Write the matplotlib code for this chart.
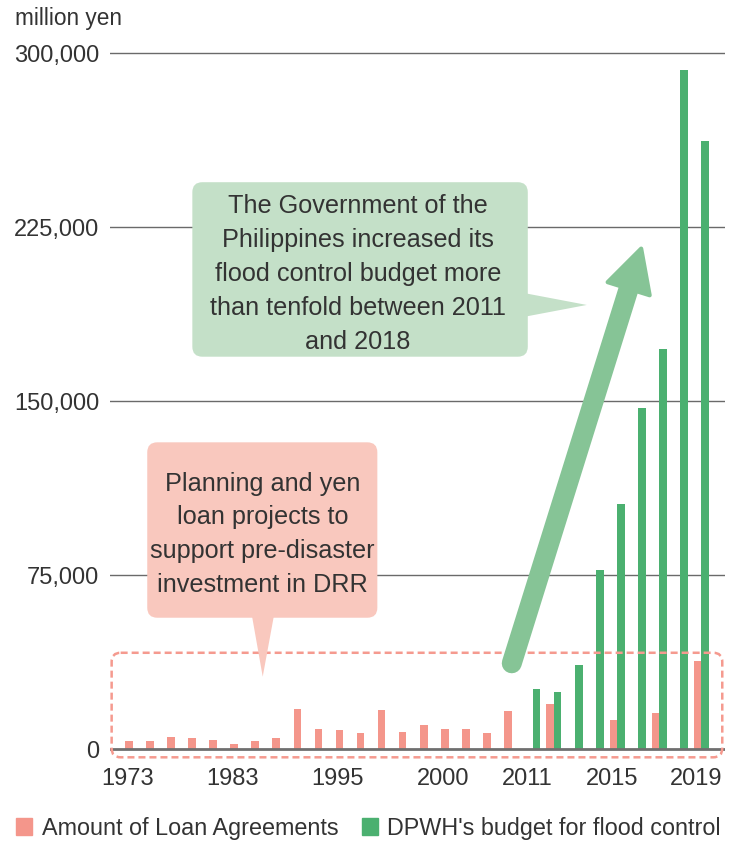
import numpy as np
import matplotlib
matplotlib.use("Agg")
import matplotlib.pyplot as plt
from matplotlib.patches import FancyBboxPatch, Polygon, Patch

plt.rcParams['font.family'] = ['Liberation Sans', 'DejaVu Sans']

# ---------------- data ----------------
categories = ['1973', '1975', '1977', '1979', '1981', '1983', '1985', '1987', '1989',
              '1992', '1995', '1996', '1997', '1998', '1999', '2000', '2002', '2004',
              '2008', '2011', '2012', '2013', '2014', '2015', '2016', '2017', '2018', '2019']
loan_amounts = [3500, 3500, 5300, 4900, 3900, 2200, 3500, 4900, 17200,
                8900, 8500, 7000, 17100, 7600, 10500, 8900, 8900, 7000,
                16500, 0, 19400, 0, 0, 12500, 0, 15800, 0, 37900]
dpwh_budget = [0, 0, 0, 0, 0, 0, 0, 0, 0,
               0, 0, 0, 0, 0, 0, 0, 0, 0,
               0, 26200, 24700, 36500, 77100, 105600, 147300, 172700, 292900, 262200]
shown_labels = ['1973', '1983', '1995', '2000', '2011', '2015', '2019']
yticks = [0, 75000, 150000, 225000, 300000]
series_names = ['Amount of Loan Agreements', "DPWH's budget for flood control"]
y_unit = 'million yen'
note_loans = 'Planning and yen\nloan projects to\nsupport pre-disaster\ninvestment in DRR'
note_budget = ('The Government of the\nPhilippines increased its\nflood control budget more\n'
               'than tenfold between 2011\nand 2018')

# ---------------- style ----------------
PINK = '#f4968b'
GREEN = '#4bb070'
PINK_NOTE = '#f9c8be'
GREEN_NOTE = '#c4e0c8'
ARROW = '#86c496'
DASH = '#f59a8f'
TXT = '#333333'

W, H = 732, 841
fig = plt.figure(figsize=(W / 100, H / 100), dpi=100)
ax = fig.add_axes([110 / W, (H - 760.9) / H, 615 / W, 719.3 / H])

x = np.arange(len(categories))
ax.set_xlim(-1.068, 28.12)
ax.set_ylim(-5000, 305000)
for s in ax.spines.values():
    s.set_visible(False)

ax.set_yticks(yticks)
ax.set_yticklabels([f'{v:,}' for v in yticks])
ax.tick_params(axis='y', length=0, pad=7.6, labelsize=17, labelcolor=TXT)
for v in yticks[1:]:
    ax.axhline(v, color='#6a6a6a', lw=1.0, zorder=1)
ax.axhline(0, color='#6f6f6f', lw=2.0, zorder=4)

ax.bar(x - 0.178, loan_amounts, width=0.36, color=PINK, zorder=3)
ax.bar(x + 0.178, dpwh_budget, width=0.36, color=GREEN, zorder=3)

tick_idx = np.array([categories.index(l) for l in shown_labels])
ax.set_xticks(tick_idx - 0.25)
ax.set_xticklabels(shown_labels)
ax.tick_params(axis='x', length=0, pad=5, labelsize=17, labelcolor=TXT)

fig.text(15 / W, 1 - 18 / H, y_unit, fontsize=16.3, va='center', ha='left', color=TXT)

# ---------------- overlay for annotations (pixel space) ----------------
ov = fig.add_axes([0, 0, 1, 1])
ov.set_xlim(0, W)
ov.set_ylim(H, 0)
ov.axis('off')


def d2p(xv, yv):
    dx, dy = ax.transData.transform((xv, yv))
    return dx, H - dy


# dashed box around loan bars
bx0, by0 = d2p(-0.99, 41600)
bx1, by1 = d2p(27.99, -3450)
ov.add_patch(FancyBboxPatch((bx0, by0), bx1 - bx0, by1 - by0,
                            boxstyle='round,pad=0,rounding_size=9', fill=False,
                            edgecolor=DASH, lw=1.8, linestyle=(0, (2.8, 1.6))))


def callout(x0, x1, y0, y1, pointer, color, text, tx, ty):
    px0, py0 = d2p(x0, y1)
    px1, py1 = d2p(x1, y0)
    ov.add_patch(FancyBboxPatch((px0, py0), px1 - px0, py1 - py0,
                                boxstyle='round,pad=0,rounding_size=10', fc=color, ec='none'))
    ov.add_patch(Polygon([d2p(*p) for p in pointer], closed=True, fc=color, ec='none'))
    ov.text(*d2p(tx, ty), text, ha='center', va='center', fontsize=18.2, color=TXT,
            linespacing=1.52)


callout(0.70, 11.62, 56700, 132300,
        [(5.66, 58000), (6.72, 58000), (6.18, 31300)],
        PINK_NOTE, note_loans, 6.16, 92600)
callout(2.84, 18.76, 169200, 244400,
        [(18.6, 196600), (18.6, 186400), (21.56, 191500)],
        GREEN_NOTE, note_budget, 10.69, 204900)

# big arrow
t0 = np.array(d2p(18.0, 37070))
t1 = np.array(d2p(24.17, 216600))
v = t1 - t0
u = v / np.hypot(*v)
n = np.array([-u[1], u[0]])
tip = t1 - 2 * u
base = tip - 42 * u
shaft_end = base + 6 * u
ov.plot([t0[0], shaft_end[0]], [t0[1], shaft_end[1]], color=ARROW, lw=14.4,
        solid_capstyle='round')
ov.add_patch(Polygon([tip, base + 22 * n, base - 22 * n], closed=True, fc=ARROW,
                     ec=ARROW, lw=3, joinstyle='round'))

# legend
handles = [Patch(color=PINK), Patch(color=GREEN)]
fig.legend(handles, series_names, loc='center left', bbox_to_anchor=(16 / W, 13 / H),
           ncol=2, frameon=False, fontsize=16.8, handlelength=0.7, handleheight=0.7,
           handletextpad=0.4, columnspacing=1.0, borderpad=0, borderaxespad=0,
           labelcolor=TXT)

fig.savefig('out.png', dpi=100)
